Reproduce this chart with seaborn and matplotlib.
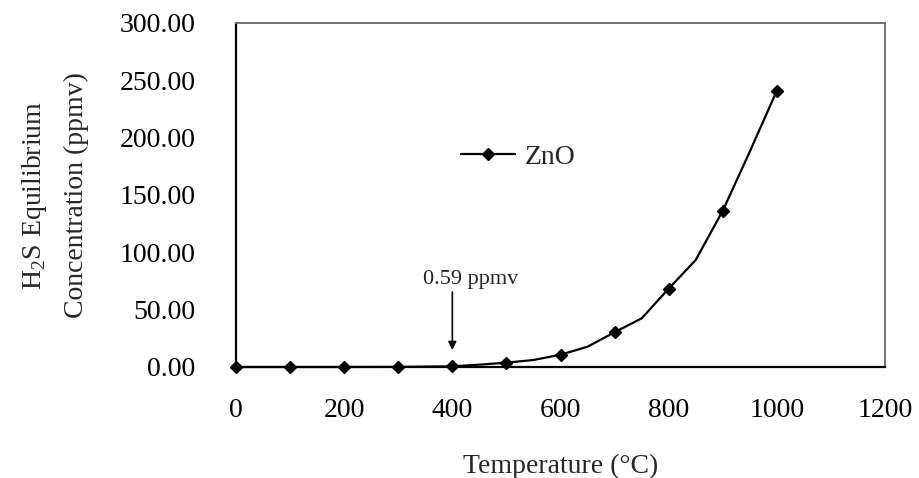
import matplotlib
matplotlib.use("Agg")
import matplotlib.pyplot as plt
import seaborn as sns
import pandas as pd

# Data
temperature = [0, 100, 200, 300, 400, 450, 500, 550, 600, 650, 700, 750, 800, 850, 900, 950, 1000]
concentration = [0.0, 0.0, 0.01, 0.08, 0.59, 2.0, 3.8, 6.1, 10.7, 17.7, 30.3, 42.4, 68.3, 93.3, 136.3, 187.8, 241.0]
marked_temps = [0, 100, 200, 300, 400, 500, 600, 700, 800, 900, 1000]
x_ticks = [0, 200, 400, 600, 800, 1000, 1200]
y_ticks = [0, 50, 100, 150, 200, 250, 300]
series_name = "ZnO"
annotation_text = "0.59 ppmv"

sns.set_theme(style="white")
plt.rcParams["font.family"] = ["Liberation Serif", "DejaVu Serif"]
plt.rcParams["mathtext.fontset"] = "custom"
plt.rcParams["mathtext.rm"] = "Liberation Serif"

df = pd.DataFrame({"Temperature": temperature, "Concentration": concentration})
mark_idx = [i for i, t in enumerate(temperature) if t in marked_temps]

fig = plt.figure(figsize=(9.19, 4.78), dpi=100)
ax = fig.add_axes([236 / 919, 1 - 367 / 478, (885 - 236) / 919, (367 - 23) / 478])

sns.lineplot(data=df, x="Temperature", y="Concentration", ax=ax, color="black",
             linewidth=1.6, marker="D", markersize=6.3, markeredgewidth=1,
             markerfacecolor="black", markeredgecolor="black",
             markevery=mark_idx, label=series_name, clip_on=False, zorder=5)

ax.set_xlim(0, 1200)
ax.set_ylim(0, 300)
ax.set_xticks(x_ticks)
ax.set_xticklabels([str(t) for t in x_ticks])
ax.set_yticks(y_ticks)
ax.set_yticklabels([f"{v:.2f}" for v in y_ticks])

ax.tick_params(axis="both", direction="in", length=7, width=1, color="#808080",
               labelsize=20, labelcolor="black")
ax.tick_params(axis="x", pad=22)
ax.tick_params(axis="y", pad=29)

for side in ["left", "bottom"]:
    ax.spines[side].set_color("black")
    ax.spines[side].set_linewidth(1.6)
for side in ["top", "right"]:
    ax.spines[side].set_color("#707070")
    ax.spines[side].set_linewidth(1.4)

ax.set_xlabel("Temperature (\u00b0C)", fontsize=20)
ax.xaxis.set_label_coords(0.5, -0.288)
ax.xaxis.label.set_va("center")

ax.set_ylabel("H$_\\mathregular{2}$S Equilibrium\nConcentration (ppmv)", fontsize=20,
              linespacing=1.75)
ax.yaxis.set_label_coords(-0.28, 0.5)
ax.yaxis.label.set_va("center")

# annotation: text and vertical arrow
ax.text(433, 76, annotation_text, ha="center", va="center", fontsize=16)
ax.annotate("", xy=(400, 14.8), xytext=(400, 65.4),
            arrowprops=dict(arrowstyle="-|>", color="black", lw=1.2,
                            mutation_scale=12, shrinkA=0, shrinkB=0))

leg = ax.legend(loc="center left", bbox_to_anchor=(0.346, 0.61), frameon=False,
                fontsize=20, handlelength=1.95, handletextpad=0.35, borderpad=0,
                borderaxespad=0)

fig.savefig("out.png", dpi=100)
